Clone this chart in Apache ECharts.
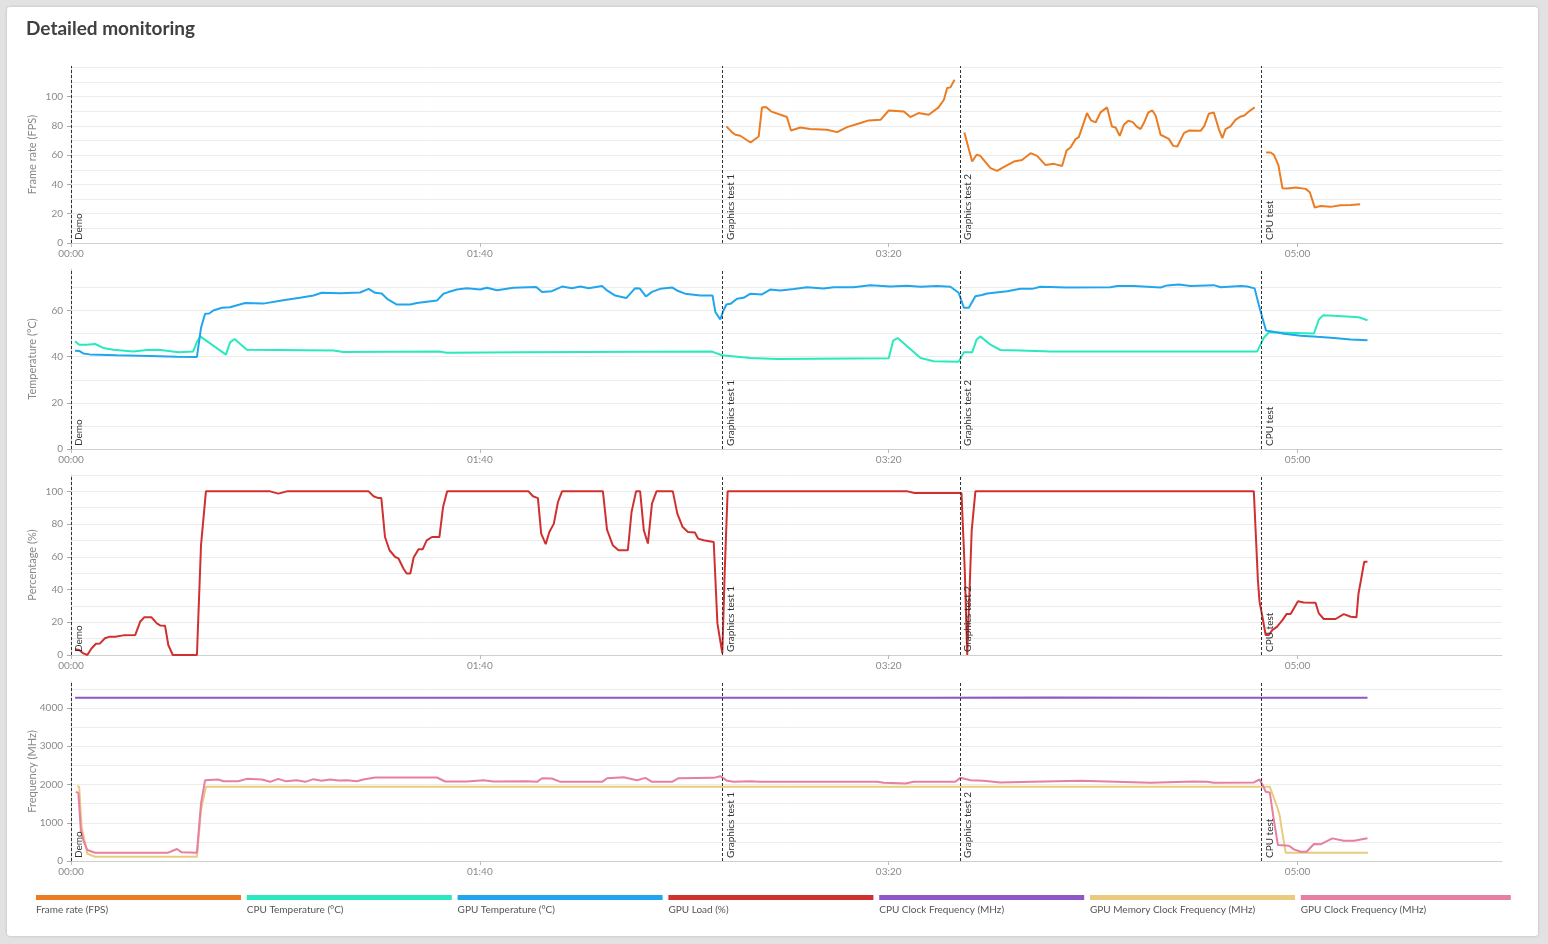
<!DOCTYPE html>
<html>
<head>
<meta charset="utf-8">
<title>Detailed monitoring</title>
<script src="https://cdn.jsdelivr.net/npm/echarts@6.0.0/dist/echarts.min.js"></script>
<style>
  html, body { margin: 0; padding: 0; background: #e2e2e2; }
  #card {
    position: absolute; left: 7px; top: 7px; width: 1531px; height: 929px;
    background: #fff; border-radius: 3px; box-shadow: 0 0 3px rgba(0,0,0,0.18);
  }
  #chart { position: absolute; left: 0; top: 0; width: 1548px; height: 944px; }
</style>
</head>
<body>
<div id="card"></div>
<div id="chart"></div>
<script>
// series names / colours (legend order)
var seriesNames = ['Frame rate (FPS)', 'CPU Temperature (°C)', 'GPU Temperature (°C)', 'GPU Load (%)',
  'CPU Clock Frequency (MHz)', 'GPU Memory Clock Frequency (MHz)', 'GPU Clock Frequency (MHz)'];
var seriesColors = ['#ea7d24', '#2ae9bf', '#21a6ee', '#cf3131', '#8f56c6', '#eacb7e', '#e67fa2'];

// test markers (seconds)
var testNames = ['Demo', 'Graphics test 1', 'Graphics test 2', 'CPU test'];
var testStarts = [0, 159.3, 217.5, 291.2];

// y axis ticks
var fpsLabels = [0, 20, 40, 60, 80, 100];
var fpsLines = [10, 20, 30, 40, 50, 60, 70, 80, 90, 100, 110, 120];
var tempLabels = [0, 20, 40, 60];
var tempLines = [10, 20, 30, 40, 50, 60, 70];
var pctLabels = [0, 20, 40, 60, 80, 100];
var pctLines = [10, 20, 30, 40, 50, 60, 70, 80, 90, 100, 110];
var freqLabels = [0, 1000, 2000, 3000, 4000];
var freqLines = [500, 1000, 1500, 2000, 2500, 3000, 3500, 4000, 4500];

// [seconds, value]
var fpsData = [
  [160.3,79.7],[161.7,75.6],[162.5,74],[163.7,73.3],[166.2,68.7],[168.2,72.8],[169,92.7],[170,92.9],[171.2,90],
  [175.1,86.1],[176.1,76.9],[178.4,79],[180.8,77.9],[184.9,77.4],[187.4,75.8],[189.8,79.2],[193.1,82],[195.1,83.8],
  [198,84.2],[200,90.6],[203.7,89.9],[205.3,86.1],[207.3,88.8],[209.8,87.7],[212.2,92.7],[213.5,97.9],[214.3,105.9],
  [215.1,106.4],[216.1,111.6],
  [217,'-'],
  [218.5,75.6],[220.4,55.7],[221.5,60.3],[222.4,59.6],[224.9,51.2],[226.5,49.3],[228.1,51.8],[230.6,55.7],[232.6,56.8],
  [234.7,61.4],[236.3,59.6],[238.3,53.4],[240.4,54.1],[242.4,52.7],[243.5,63.2],[244.5,65.5],[245.7,71],[246.5,72.4],
  [248.5,88.8],[249.5,83.8],[250.6,82.4],[251.8,89.3],[253.4,92.7],[254.6,79.7],[255.5,79],[256.5,73.3],[257.5,80.8],
  [258.6,83.6],[259.7,82.6],[260.6,79.7],[261.6,77.9],[262.4,82],[263.5,89.3],[264.5,90.6],[265.3,87],[266.5,74],
  [268.5,71.2],[269.6,66.4],[270.6,66],[272.2,75.1],[273.4,76.9],[276.3,76.7],[277.2,80.1],[278.3,88.4],[279.5,89.3],
  [280.8,77.4],[281.6,71.7],[282.4,77.9],[283.6,79.7],[284.8,84.2],[286.1,86.5],[286.9,87],[288.1,89.9],[289.5,92.7],
  [291,'-'],
  [292.3,61.9],[293.4,61.9],[294.2,60.3],[295.3,53.4],[296.3,37.5],[297.5,37.2],[299.5,37.9],[302,37],[303,34.7],
  [304.2,24.2],[305.6,25.3],[308.1,24.7],[310.5,25.8],[313,26],[315.3,26.5]
];

var cpuTempData = [
  [1,46.7],[2,45.2],[3.8,45.2],[5.9,45.5],[7.9,43.8],[10.4,43],[15.2,42.3],[18.5,42.9],[21.4,43],[26.3,41.9],
  [29.9,42.3],[30.8,46.4],[31.6,48.8],[34.8,44.8],[37.9,40.9],[38.9,46.2],[40,47.7],[43,43],[64.2,42.7],[66.6,42],
  [90.3,42.2],[91.9,41.7],[109.9,41.9],[156.8,42.2],[159.2,40.6],[166.2,39.4],[172.7,39],[200,39.3],[201.1,47],
  [202.2,48.1],[204.5,44.5],[207.8,39.4],[211,38],[217.1,37.8],[218.4,41.9],[220.4,41.9],[221.5,47.4],[222.4,48.8],
  [224.9,45.2],[227.3,42.9],[232.2,42.7],[239.6,42.2],[290.1,42.2],[291.7,48.1],[293,50.6],[304,50],[305.2,56.1],
  [306.3,58],[308.9,57.7],[315,57.1],[317.1,55.8]
];

var gpuTempData = [
  [1,42.6],[2,42.5],[3,41.4],[4.6,41],[11.2,40.6],[19.3,40.3],[25.9,40],[30.8,39.9],[31.8,52.5],[32.8,58.6],
  [33.8,58.7],[34.8,60],[36.9,61.2],[38.9,61.4],[42.6,63.3],[47,63],[51.9,64.5],[56,65.5],[59.3,66.5],[61.3,67.7],
  [65.8,67.5],[70.7,67.8],[72.8,69.4],[74.4,67.7],[76,67.4],[77.3,65.1],[79.7,62.6],[83,62.6],[84.6,63.3],[89.5,64.3],
  [91.1,67.3],[92.3,68],[94.4,69.1],[96.8,69.7],[100.1,69.1],[101.7,69.9],[104.2,68.8],[108.2,69.9],[113.8,70.2],
  [115.2,68],[117.6,68.4],[120.1,70.4],[122.5,69.7],[124.6,70.4],[126.6,69.7],[129.9,70.6],[131.1,68.7],[133.1,66.5],
  [135.8,65.4],[138,69.7],[139.1,69.6],[140.6,66.1],[142.1,68.1],[144.1,69.4],[147,70],[148.2,68.7],[150.2,67.3],
  [153.9,66.5],[156.9,66.5],[157.6,59.4],[158.8,56.1],[159.5,59.7],[160.3,62.6],[161.3,62.9],[162.9,65.1],[164.5,65.5],
  [166.2,67.3],[169,67],[171,69.1],[173.5,68.7],[176.8,69.3],[180,70.1],[184.1,69.6],[186.5,70.1],[191.4,70.1],
  [195.5,71],[200.4,70.4],[204.5,70.7],[207.8,70.3],[211.8,70.6],[215.1,70.3],[217.1,67.7],[218.4,61.2],[219.6,61.2],
  [221.2,66.2],[222.8,66.7],[224.1,67.4],[229,68.4],[232.2,69.4],[235.1,69.4],[237.1,70.3],[243.6,70],[254.2,70.1],
  [255.9,70.6],[260,70.6],[266.5,70],[268.1,70.9],[271,71.3],[273.8,70.6],[279.5,71],[281.2,70.1],[286.1,70.6],
  [287.7,70.4],[289.5,69.6],[290.5,62.6],[291.4,56.8],[292.3,51.3],[293.4,51],[296.7,49.9],[300.8,49.1],[304.8,48.6],
  [308.9,48.1],[313,47.5],[317.1,47.1]
];

var gpuLoadData = [
  [1,3.5],[2,3],[3,1],[4,0],[5,4],[6.1,6.9],[7.1,7.1],[8.3,10.2],[9.5,11.2],[10.8,11.2],[12.8,12],[15.7,12.2],
  [16.9,20.3],[17.9,23],[19.7,23],[21,19.3],[21.8,18.1],[23,17.9],[23.8,6.1],[24.9,0],[30.8,0],[31.8,67.1],[33,100],
  [48.7,100],[50.7,98.6],[52.8,100],[72.8,100],[74,97],[75.2,95.9],[75.9,95.9],[76.8,72.1],[77.9,64],[79.3,59.9],
  [80.1,59],[81.3,52.9],[82.1,49.8],[83,49.8],[83.8,59.6],[85,64.6],[86,64.6],[87,70.1],[88.3,72.1],[90.1,72.1],
  [91,90.4],[92,100],[111.9,100],[113,97],[114.2,95.9],[115,74.2],[116.1,67.7],[117,75.2],[118.1,80.3],[119.1,93.5],
  [120.1,100],[130.1,100],[131.1,76.6],[132.5,67.1],[133.9,64],[136.2,64],[137.1,87.4],[138.2,100],[139.2,100],
  [140.1,76.2],[141.1,68.1],[142.1,92.5],[143.2,100],[147.2,100],[148.3,86.4],[149.6,78.2],[150.9,75.2],[152.6,74.8],
  [153.4,71.1],[154.7,70.1],[157.2,69.1],[158.1,19.3],[159.3,1],[159.9,51.8],[160.6,100],[204.6,100],[206.3,99],
  [217.8,99],[218.6,51.8],[219.2,0],[220.3,76.2],[221.2,100],[289.3,100],[290.3,45.7],[290.7,32.5],[291.4,23.4],
  [292.2,12.2],[293,12.2],[293.8,15.2],[295,17.3],[296.3,21.3],[297.3,25],[298.3,25],[300.1,32.9],[301.5,32.1],
  [304.4,31.9],[305.2,25.4],[306.4,22],[309.3,22],[311.3,25],[313,23.4],[314.4,23],[314.9,37.6],[315.5,45.7],
  [316.3,57],[317.1,57]
];

var cpuClockData = [
  [1,4270],[30,4270],[60,4270],[90,4270],[120,4270],[150,4270],[180,4270],[210,4270],[240,4275],[270,4270],
  [300,4270],[317.1,4270]
];

var memClockData = [
  [1.5,1957],[2,1940],[2.6,895],[4,190],[5.9,112],[30.8,112],[31.8,1330],[33,1940],[293.2,1940],[293.8,1766],
  [295,1417],[295.6,1200],[296.3,722],[297.1,217],[317.2,217]
];

var gpuClockData = [
  [1.2,1808],[1.8,1782],[2.4,809],[3,548],[4,287],[5.9,217],[23.8,217],[25.9,313],[27.1,226],[30.8,217],[31.8,1505],
  [32.8,2113],[36,2131],[37.3,2087],[40.9,2087],[43,2148],[46.7,2131],[48.7,2070],[50.7,2148],[52.4,2087],[55.2,2113],
  [57.3,2070],[59.3,2140],[61.3,2096],[63.4,2131],[65.4,2105],[67.5,2113],[69.9,2087],[71.5,2131],[74.4,2183],
  [89.5,2183],[91.5,2079],[96.8,2079],[100.9,2113],[103.3,2079],[111.5,2087],[114,2070],[115.2,2165],[117.6,2157],
  [119.7,2070],[129.9,2070],[131.1,2165],[135.2,2192],[138.4,2113],[140.5,2174],[142.1,2070],[147,2070],[148.6,2165],
  [157.2,2174],[158.8,2218],[160.5,2096],[162.1,2070],[166.2,2087],[168.6,2070],[197.2,2070],[198.8,2044],[204.1,2026],
  [206.1,2070],[216.3,2070],[217.5,2174],[220,2113],[223.2,2096],[227.3,2052],[235,2070],[247,2096],[264.1,2043],
  [274.6,2079],[277.9,2070],[279.5,2043],[289.3,2053],[290.7,2131],[291.6,1957],[292.2,1808],[293.2,1792],[294.2,1070],
  [295.2,417],[297.9,400],[299.1,305],[300.8,243],[302.2,243],[304,443],[305.6,435],[308.5,592],[311.3,530],
  [313.8,530],[317.1,592]
];

var font = 'Lato, "Open Sans", sans-serif';
var grids = [
  { top: 66, height: 177, name: 'Frame rate (FPS)', max: 121, labels: fpsLabels, lines: fpsLines },
  { top: 269, height: 180, name: 'Temperature (°C)', max: 78, labels: tempLabels, lines: tempLines },
  { top: 475, height: 180, name: 'Percentage (%)', max: 110, labels: pctLabels, lines: pctLines },
  { top: 682, height: 179, name: 'Frequency (MHz)', max: 4680, labels: freqLabels, lines: freqLines }
];

function pad(n) { return (n < 10 ? '0' : '') + n; }
function timeLabel(v) { return pad(Math.floor(v / 60)) + ':' + pad(Math.round(v % 60)); }

var xAxes = [], yAxes = [];
grids.forEach(function (g, i) {
  xAxes.push({
    type: 'value', gridIndex: i, min: 0, max: 350, interval: 100,
    axisLine: { lineStyle: { color: '#cfcfcf' } },
    axisTick: { length: 4, lineStyle: { color: '#bbb' } },
    axisLabel: { formatter: timeLabel, color: '#8a8a8a', fontSize: 10, fontFamily: font, margin: 6, showMaxLabel: false },
    splitLine: { show: false }
  });
  yAxes.push({
    type: 'value', gridIndex: i, min: 0, max: g.max, interval: g.labels[1],
    name: g.name, nameLocation: 'middle', nameGap: 33, nameMoveOverlap: false,
    nameTextStyle: { color: '#888', fontSize: 11, fontFamily: font },
    axisLine: { show: true, lineStyle: { color: '#cfcfcf' } },
    axisTick: { show: true, length: 4, customValues: g.labels, lineStyle: { color: '#aaa' } },
    axisLabel: { customValues: g.labels, formatter: function (v) { return String(v); }, color: '#8a8a8a', fontSize: 10, fontFamily: font, margin: 8 },
    splitLine: { show: false }
  });
  yAxes.push({
    type: 'value', gridIndex: i, min: 0, max: g.max, position: 'left',
    axisLine: { show: false },
    axisTick: { show: false, customValues: g.lines },
    axisLabel: { show: false },
    splitLine: { show: true, lineStyle: { color: '#ececec', width: 1 } }
  });
});

var markers = {
  symbol: 'none', silent: true, animation: false,
  lineStyle: { type: [3, 2], color: '#333', width: 1 },
  label: { show: true, position: 'insideStartBottom', formatter: '{b}', color: '#333', fontSize: 10, fontFamily: font, distance: 3 },
  data: testNames.map(function (n, i) { return { name: n, xAxis: testStarts[i] }; })
};

function line(idx, grid, data, withMarks) {
  var s = {
    name: seriesNames[idx], type: 'line', xAxisIndex: grid, yAxisIndex: grid * 2,
    data: data, showSymbol: false, symbol: 'none', connectNulls: false,
    lineStyle: { width: 2, color: seriesColors[idx] }, itemStyle: { color: seriesColors[idx] },
    emphasis: { disabled: true }
  };
  if (withMarks) s.markLine = markers;
  return s;
}

var series = [
  line(0, 0, fpsData, true),
  line(1, 1, cpuTempData, true),
  line(2, 1, gpuTempData, false),
  line(3, 2, gpuLoadData, true),
  line(4, 3, cpuClockData, true),
  line(5, 3, memClockData, false),
  line(6, 3, gpuClockData, false)
];

// legend drawn as coloured bars with the name below
var legendItems = [];
seriesNames.forEach(function (n, i) {
  var x = 36 + i * 210.8;
  var w = i === seriesNames.length - 1 ? 210 : 205;
  legendItems.push({ type: 'rect', left: x, top: 895, shape: { width: w, height: 5 }, style: { fill: seriesColors[i] } });
  legendItems.push({ type: 'text', left: x, top: 905, style: { text: n, fill: '#555', fontSize: 10, fontFamily: font } });
});

var chart = echarts.init(document.getElementById('chart'), null, { renderer: 'canvas' });
chart.setOption({
  backgroundColor: 'transparent',
  animation: false,
  title: { text: 'Detailed monitoring', left: 21, top: 14, textStyle: { fontSize: 19, fontWeight: 'bold', color: '#404040', fontFamily: font } },
  grid: grids.map(function (g) { return { left: 71, right: 46, top: g.top, height: g.height }; }),
  xAxis: xAxes,
  yAxis: yAxes,
  series: series,
  graphic: legendItems
});
</script>
</body>
</html>
